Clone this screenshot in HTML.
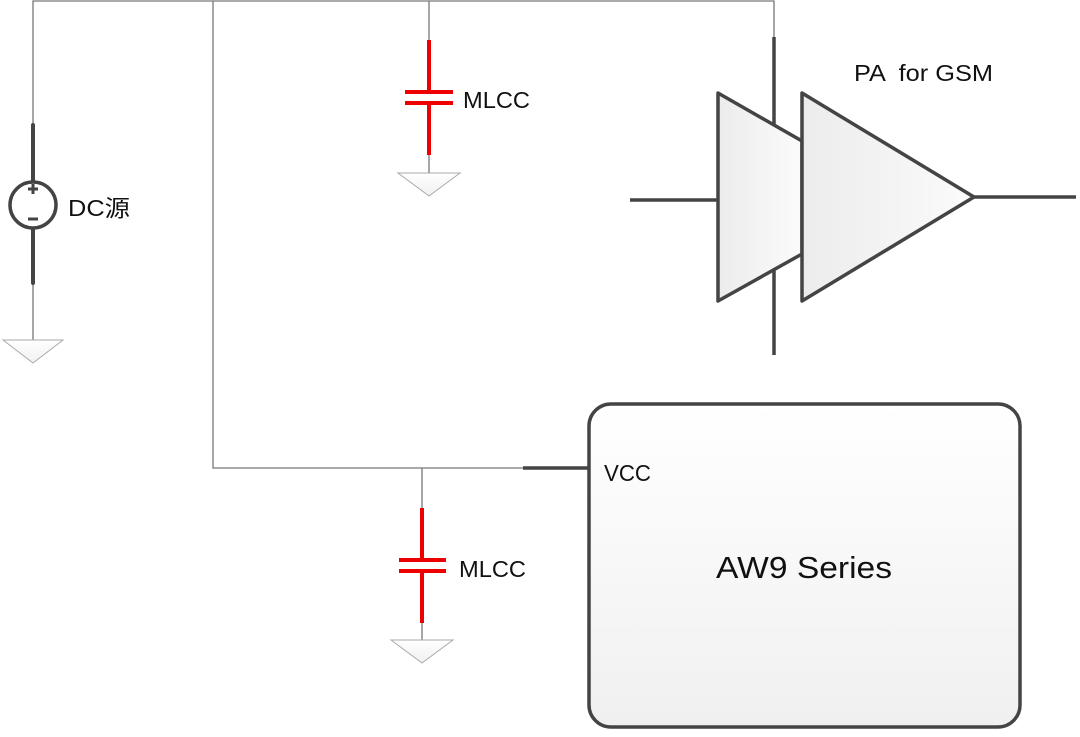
<!DOCTYPE html>
<html><head><meta charset="utf-8"><style>
html,body{margin:0;padding:0;background:#fff;}
svg text{font-family:"Liberation Sans","Noto Sans CJK SC",sans-serif;fill:#111;}
</style></head><body>
<svg width="1080" height="732" viewBox="0 0 1080 732" xmlns="http://www.w3.org/2000/svg">
<defs>
<linearGradient id="g" x1="0" x2="1" y1="0" y2="0"><stop offset="0" stop-color="#ececec"/><stop offset="1" stop-color="#fbfbfb"/></linearGradient>
<linearGradient id="gb" x1="0" x2="0" y1="0" y2="1"><stop offset="0" stop-color="#fff"/><stop offset="1" stop-color="#f0f0f0"/></linearGradient>
</defs>
<g stroke="#777" stroke-width="1.3" fill="none">
<path d="M33 125 V1 H774 V37"/>
<path d="M213 1 V468 H523"/>
<path d="M429 1 V40 M429 155 V173"/>
<path d="M422 468 V508 M422 623 V640"/>
<path d="M33 283 V340"/>
</g>
<g fill="url(#gb)" stroke="#aaa" stroke-width="1">
<path d="M3 340 H63 L33 363 Z"/>
<path d="M398 173 H460 L429 196 Z"/>
<path d="M391 640 H453 L422 663 Z"/>
</g>
<g stroke="#444" stroke-width="4" fill="none" stroke-linecap="round">
<path d="M33 125 V180 M33 230 V283"/>
</g>
<circle cx="33" cy="205" r="23" fill="none" stroke="#444" stroke-width="3.5"/>
<path d="M33 184 V194 M28 189 H38 M28 219 H38" stroke="#444" stroke-width="3"/>
<text x="68" y="216" font-size="23" textLength="62" lengthAdjust="spacingAndGlyphs">DC源</text>
<g stroke="#e00" stroke-width="4" fill="none">
<path d="M429 40 V92 M429 103 V155 M405 92 H453 M405 103 H453"/>
<path d="M422 508 V560 M422 571 V623 M399 560 H446 M399 571 H446"/>
</g>
<text x="463" y="108" font-size="23" textLength="67" lengthAdjust="spacingAndGlyphs">MLCC</text>
<text x="459" y="577" font-size="23" textLength="67" lengthAdjust="spacingAndGlyphs">MLCC</text>
<g stroke="#444" stroke-width="3.5" fill="none">
<path d="M774 37 V126 M774 268 V355"/>
<path d="M630 200 H718 M974 197 H1076"/>
</g>
<path d="M718 93 L802 141 V254 L718 301 Z" fill="url(#g)" stroke="#444" stroke-width="3.5" stroke-linejoin="round"/>
<path d="M802 93 L974 197 L802 301 Z" fill="url(#g)" stroke="#444" stroke-width="3.5" stroke-linejoin="round"/>
<text x="854" y="81" font-size="23" xml:space="preserve" textLength="139" lengthAdjust="spacingAndGlyphs">PA  for GSM</text>
<rect x="589" y="404" width="431" height="323" rx="22" fill="url(#gb)" stroke="#444" stroke-width="3.5"/>
<path d="M523 468 H589" stroke="#444" stroke-width="3.5"/>
<text x="604" y="481" font-size="23" textLength="47" lengthAdjust="spacingAndGlyphs">VCC</text>
<text x="716" y="578" font-size="31" textLength="176" lengthAdjust="spacingAndGlyphs">AW9 Series</text>
</svg>
</body></html>
